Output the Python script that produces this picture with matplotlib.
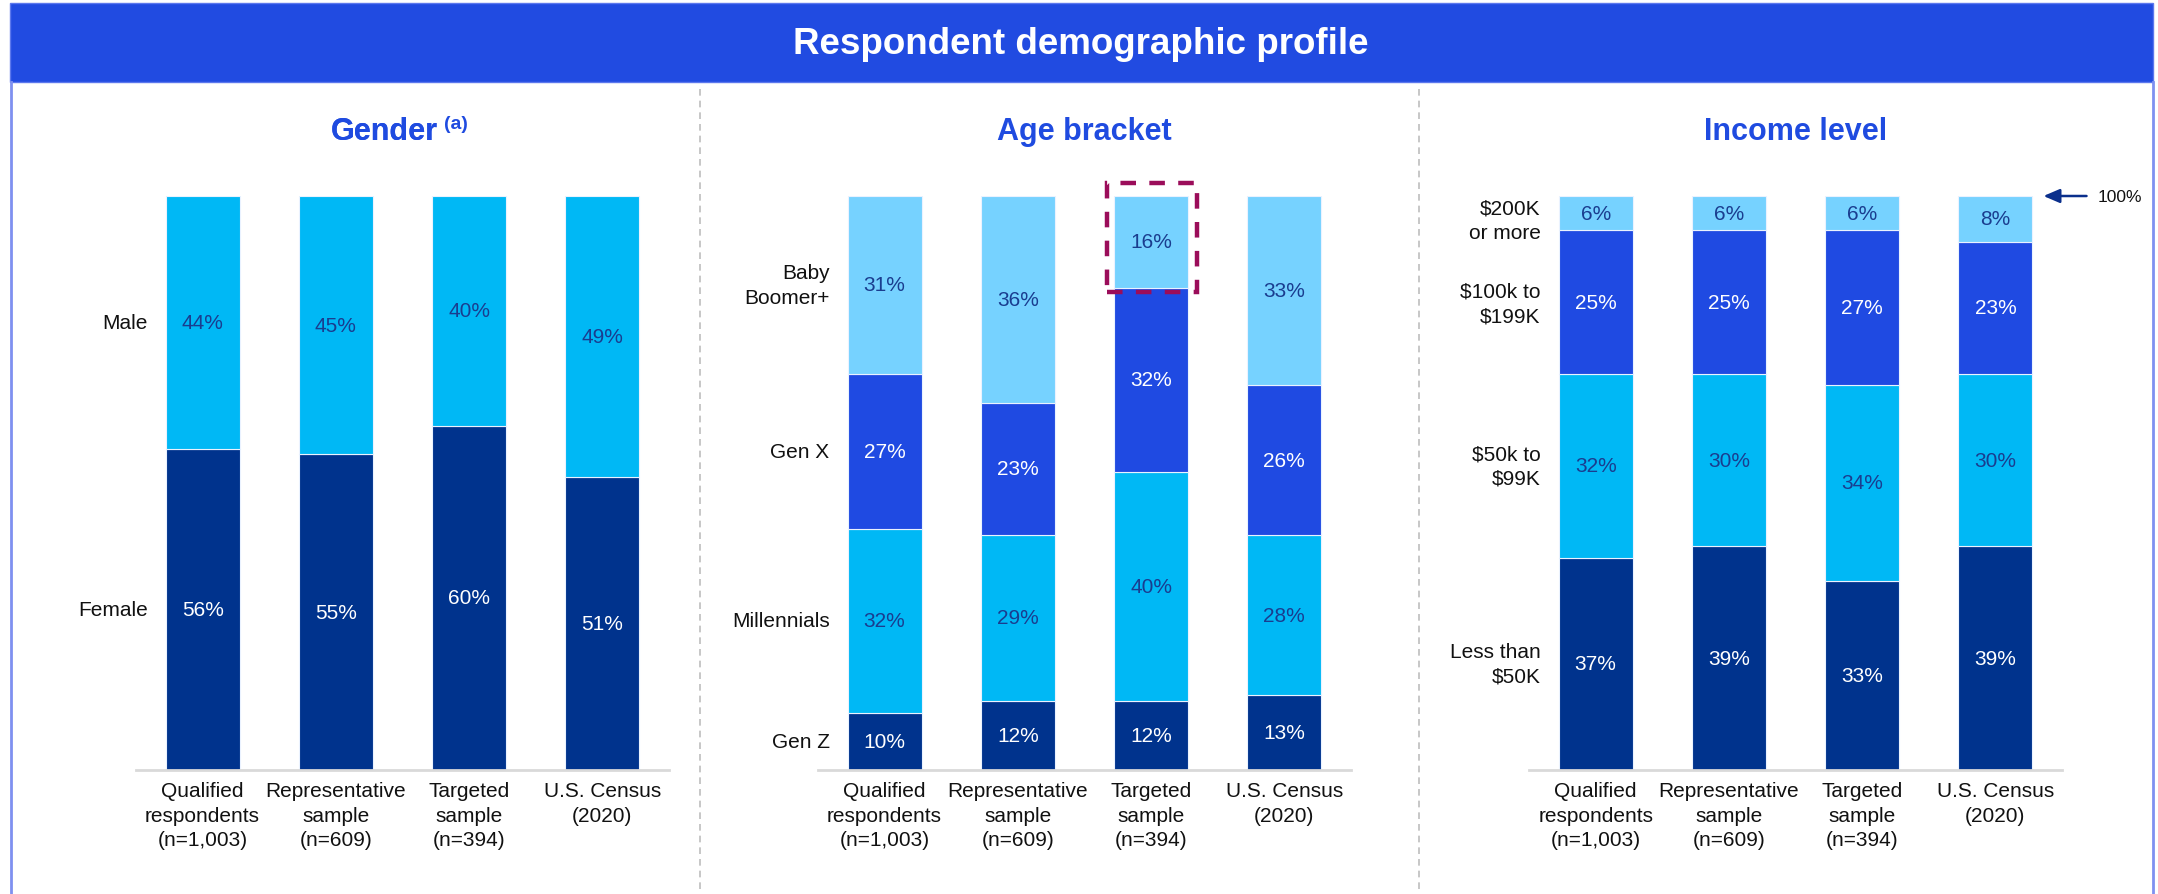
import matplotlib
matplotlib.use("Agg")
import matplotlib.pyplot as plt
from matplotlib.patches import Rectangle
from matplotlib.lines import Line2D

plt.rcParams['font.family'] = ['Liberation Sans', 'DejaVu Sans']

# ---------------- data ----------------
categories = ["Qualified\nrespondents\n(n=1,003)", "Representative\nsample\n(n=609)",
              "Targeted\nsample\n(n=394)", "U.S. Census\n(2020)"]

gender_labels = ["Female", "Male"]
gender_female = [56, 55, 60, 51]
gender_male = [44, 45, 40, 49]

age_labels = ["Gen Z", "Millennials", "Gen X", "Baby\nBoomer+"]
age_genz = [10, 12, 12, 13]
age_millennials = [32, 29, 40, 28]
age_genx = [27, 23, 32, 26]
age_boomer = [31, 36, 16, 33]

income_labels = ["Less than\n\\$50K", "\\$50k to\n\\$99K", "\\$100k to\n\\$199K", "\\$200K\nor more"]
income_lt50 = [37, 39, 33, 39]
income_50_99 = [32, 30, 34, 30]
income_100_199 = [25, 25, 27, 23]
income_200p = [6, 6, 6, 8]

main_title = "Respondent demographic profile"
panel_titles = ["Gender", "Age bracket", "Income level"]

# ---------------- style ----------------
NAVY = '#00338D'
BLUE = '#1F4AE2'
CYAN = '#00B8F5'
LIGHT = '#76D2FF'
DARK_TXT = '#1A3D8F'
TITLE_BLUE = '#1F4BE0'
BANNER = '#214BE1'
LSP = 1.37

W, H = 2158, 895
fig = plt.figure(figsize=(W / 100, H / 100), dpi=100)


def fx(px):
    return px / W


def fy(py):
    return 1 - py / H


BAR_W = 0.555
AX_BOTTOM = 771
AX_TOP = 197

ax_lefts = [136, 818, 1529]
ax_width = 533

axes = []
for left in ax_lefts:
    ax = fig.add_axes([fx(left), fy(AX_BOTTOM), fx(ax_width), (AX_BOTTOM - AX_TOP) / H])
    axes.append(ax)


def panel(ax, series, colors, txtcolors, labels, label_offsets):
    x = list(range(len(categories)))
    bottom = [0] * len(categories)
    for vals, c, tc, lab, off in zip(series, colors, txtcolors, labels, label_offsets):
        cont = ax.bar(x, vals, BAR_W, bottom=bottom, color=c, edgecolor='#EAF2FF', linewidth=0.8)
        ax.bar_label(cont, labels=[f"{v}%" for v in vals], label_type='center',
                     color=tc, fontsize=15)
        ycen = bottom[0] + vals[0] / 2
        ax.annotate(lab, xy=(-BAR_W / 2, ycen), xycoords='data',
                    xytext=(-13, off), textcoords='offset points',
                    ha='right', va='center', multialignment='right',
                    fontsize=15, color='#111111', linespacing=LSP,
                    annotation_clip=False)
        bottom = [b + v for b, v in zip(bottom, vals)]
    ax.set_xlim(-0.5, 3.5)
    ax.set_ylim(0, 100)
    for s in ['top', 'left', 'right']:
        ax.spines[s].set_visible(False)
    ax.spines['bottom'].set_color('#D9D9D9')
    ax.spines['bottom'].set_linewidth(2)
    ax.set_yticks([])
    ax.set_xticks(x)
    ax.set_xticklabels(categories, fontsize=15, color='#111111', linespacing=LSP)
    ax.tick_params(axis='x', length=0, pad=8)
    ax.patch.set_alpha(0)


panel(axes[0], [gender_female, gender_male], [NAVY, CYAN], ['white', DARK_TXT],
      gender_labels, [0, 0])
panel(axes[1], [age_genz, age_millennials, age_genx, age_boomer],
      [NAVY, CYAN, BLUE, LIGHT], ['white', DARK_TXT, 'white', DARK_TXT],
      age_labels, [0, 0, 0, 0])
panel(axes[2], [income_lt50, income_50_99, income_100_199, income_200p],
      [NAVY, CYAN, BLUE, LIGHT], ['white', DARK_TXT, 'white', DARK_TXT],
      income_labels, [0, 0, -1, -5])

# highlight box around Targeted sample / Baby Boomer+ segment
ax = axes[1]
bb_bottom = age_genz[2] + age_millennials[2] + age_genx[2]
rect = Rectangle((2 - BAR_W / 2 - 0.055, bb_bottom - 0.8),
                 BAR_W + 0.125, (100 - bb_bottom) + 0.8 + 2.2,
                 fill=False, edgecolor='#9B0D5A', linewidth=3.2,
                 linestyle=(0, (3.5, 3)), clip_on=False, zorder=5)
ax.add_patch(rect)

# 100% arrow on income panel
ax = axes[2]
ax.annotate('100%', xy=(3 + BAR_W / 2, 100), xycoords='data',
            xytext=(47, 0), textcoords='offset points',
            ha='left', va='center', fontsize=12.5, color='#111111',
            annotation_clip=False,
            arrowprops=dict(arrowstyle='-|>,head_length=0.7,head_width=0.3',
                            color='#0A2F8C', lw=1.8, shrinkA=6, shrinkB=8,
                            mutation_scale=14))

# panel titles
title_y = fy(132)
centers = [l + ax_width / 2 for l in ax_lefts]
t_g = fig.text(fx(centers[0]) - fx(18), title_y, panel_titles[0], ha='center', va='center',
               fontsize=22, fontweight='bold', color=TITLE_BLUE)
fig.add_artist(t_g)
axes[0].annotate("(a)", xy=(1, 1), xycoords=t_g, xytext=(4, 1), textcoords='offset points',
                 ha='left', va='top', fontsize=14, fontweight='bold', color=TITLE_BLUE,
                 annotation_clip=False)
for c, t in zip(centers[1:], panel_titles[1:]):
    fig.text(fx(c), title_y, t, ha='center', va='center',
             fontsize=22, fontweight='bold', color=TITLE_BLUE)

# banner
fig.patches.append(Rectangle((fx(10), fy(83)), fx(2143), (83 - 4) / H,
                             transform=fig.transFigure, facecolor=BANNER,
                             edgecolor='#5C78EE', linewidth=1, zorder=0))
fig.text(fx(1081), fy(45), main_title, ha='center', va='center',
         fontsize=26.5, fontweight='bold', color='white')

# frame lines
for xpx in [11, 2153]:
    fig.lines.append(Line2D([fx(xpx), fx(xpx)], [fy(83), 0], transform=fig.transFigure,
                            color='#7F90F0', linewidth=2))
# dashed separators
for xpx in [700, 1419]:
    fig.lines.append(Line2D([fx(xpx), fx(xpx)], [fy(90), fy(890)], transform=fig.transFigure,
                            color='#BDBDBD', linewidth=1.2, linestyle=(0, (4, 3))))

fig.savefig("out.png", dpi=100)
